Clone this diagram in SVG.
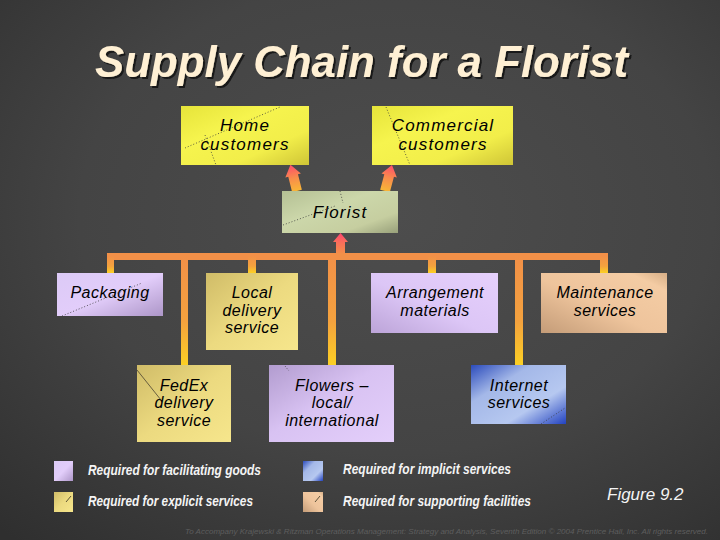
<svg xmlns="http://www.w3.org/2000/svg" width="720" height="540" viewBox="0 0 720 540">
<defs>
  <radialGradient id="bg" cx="0.55" cy="0.4" r="0.8">
    <stop offset="0" stop-color="#4d4d4d"/>
    <stop offset="0.55" stop-color="#444444"/>
    <stop offset="1" stop-color="#2f2f2f"/>
  </radialGradient>
  <filter id="shadow" x="-5%" y="-20%" width="110%" height="140%">
    <feDropShadow dx="2" dy="2" stdDeviation="0.6" flood-color="#151515" flood-opacity="0.95"/>
  </filter>
  <linearGradient id="gYellow" x1="0" y1="0" x2="1" y2="1">
    <stop offset="0" stop-color="#e6e43a"/>
    <stop offset="0.35" stop-color="#f6f44e"/>
    <stop offset="0.7" stop-color="#f2ee4a"/>
    <stop offset="1" stop-color="#cfc536"/>
  </linearGradient>
  <linearGradient id="gFlorist" x1="0" y1="0" x2="1" y2="1">
    <stop offset="0" stop-color="#b4c094"/>
    <stop offset="0.4" stop-color="#ccd7aa"/>
    <stop offset="0.75" stop-color="#c6cea0"/>
    <stop offset="1" stop-color="#98a07a"/>
  </linearGradient>
  <linearGradient id="gPurpleA" x1="0" y1="0" x2="1" y2="1">
    <stop offset="0" stop-color="#dccaf6"/>
    <stop offset="0.5" stop-color="#e2cdfa"/>
    <stop offset="1" stop-color="#ad96c8"/>
  </linearGradient>
  <linearGradient id="gPurpleB" x1="0" y1="0" x2="1" y2="1">
    <stop offset="0" stop-color="#b29ccf"/>
    <stop offset="0.45" stop-color="#d8c2f2"/>
    <stop offset="1" stop-color="#e4cffb"/>
  </linearGradient>
  <linearGradient id="gPurpleC" x1="1" y1="0" x2="0" y2="1">
    <stop offset="0" stop-color="#e6d0fc"/>
    <stop offset="0.55" stop-color="#dcc6f6"/>
    <stop offset="1" stop-color="#bca4d8"/>
  </linearGradient>
  <linearGradient id="gTan" x1="0" y1="0" x2="1" y2="1">
    <stop offset="0" stop-color="#d0bc68"/>
    <stop offset="0.5" stop-color="#ecda80"/>
    <stop offset="1" stop-color="#f6e68c"/>
  </linearGradient>
  <linearGradient id="gPeach" x1="0" y1="1" x2="1" y2="0">
    <stop offset="0" stop-color="#c49c78"/>
    <stop offset="0.45" stop-color="#eec49c"/>
    <stop offset="0.85" stop-color="#f4cca4"/>
    <stop offset="1" stop-color="#d6ae86"/>
  </linearGradient>
  <linearGradient id="gBlue" x1="0" y1="0" x2="1" y2="1">
    <stop offset="0" stop-color="#2c4cbc"/>
    <stop offset="0.32" stop-color="#a4b8e8"/>
    <stop offset="0.68" stop-color="#b6c8f0"/>
    <stop offset="1" stop-color="#2242c0"/>
  </linearGradient>
  <linearGradient id="gDrop" x1="0" y1="0" x2="0" y2="1">
    <stop offset="0" stop-color="#f29048"/>
    <stop offset="0.6" stop-color="#f4a23e"/>
    <stop offset="1" stop-color="#fcd024"/>
  </linearGradient>
  <linearGradient id="gArrow" x1="0" y1="1" x2="0" y2="0">
    <stop offset="0" stop-color="#f8b636"/>
    <stop offset="0.5" stop-color="#f88c4c"/>
    <stop offset="1" stop-color="#ff4a6c"/>
  </linearGradient>
  <linearGradient id="gArrowUp" x1="0" y1="1" x2="0" y2="0">
    <stop offset="0" stop-color="#f39048"/>
    <stop offset="0.6" stop-color="#fb6a5c"/>
    <stop offset="1" stop-color="#ff4470"/>
  </linearGradient>
  <style>
    .node text { font-family: "Liberation Sans", Arial, sans-serif; font-style: italic; font-size: 16px; fill: #000; text-anchor: middle; letter-spacing: 0.5px; }
    .node text.big { font-size: 17px; letter-spacing: 1.2px; }
    .dot { stroke: #3a3a3a; stroke-width: 0.8; stroke-dasharray: 1 2; fill: none; }
    .leg { font-family: "Liberation Sans", Arial, sans-serif; font-style: italic; font-weight: bold; font-size: 14px; fill: #f4f4f4; }
  </style>
</defs>

<rect x="0" y="0" width="720" height="540" fill="url(#bg)"/>

<!-- Title -->
<text id="title" x="95" y="77" font-family="'Liberation Sans', Arial, sans-serif" font-weight="bold" font-style="italic" font-size="45" fill="#fff0d4" filter="url(#shadow)" textLength="533" lengthAdjust="spacingAndGlyphs">Supply Chain for a Florist</text>

<!-- Connectors -->
<g id="connectors">
  <rect x="107" y="253" width="501" height="7" fill="#f29048"/>
  <rect x="107" y="256" width="7" height="17" fill="url(#gDrop)"/>
  <rect x="248" y="256" width="8" height="17" fill="url(#gDrop)"/>
  <rect x="428" y="256" width="8" height="17" fill="url(#gDrop)"/>
  <rect x="600" y="256" width="8" height="17" fill="url(#gDrop)"/>
  <rect x="181" y="256" width="7" height="109" fill="url(#gDrop)"/>
  <rect x="328" y="256" width="8" height="109" fill="url(#gDrop)"/>
  <rect x="515" y="256" width="8" height="109" fill="url(#gDrop)"/>
  <polygon points="336,254 336,242 333,242 340.5,233 348,242 345,242 345,254" fill="url(#gArrowUp)"/>
  <g transform="translate(297,191) rotate(-14)">
    <polygon points="-5,0 -5,-16 -8,-16 0,-27 8,-16 5,-16 5,0" fill="url(#gArrow)"/>
  </g>
  <g transform="translate(385,191) rotate(15)">
    <polygon points="-5,0 -5,-16 -8,-16 0,-27 8,-16 5,-16 5,0" fill="url(#gArrow)"/>
  </g>
</g>

<!-- Nodes -->
<g id="home" class="node">
  <rect x="181" y="106" width="128" height="59" fill="url(#gYellow)"/>
  <path class="dot" d="M185,148 L280,107 M205,135 L216,165"/>
  <text class="big" x="245" y="131">Home</text>
  <text class="big" x="245" y="150">customers</text>
</g>
<g id="commercial" class="node">
  <rect x="372" y="106" width="141" height="59" fill="url(#gYellow)"/>
  <path class="dot" d="M386,107 L410,165"/>
  <text class="big" x="443" y="131">Commercial</text>
  <text class="big" x="443" y="150">customers</text>
</g>
<g id="florist" class="node">
  <rect x="282" y="191" width="116" height="42" fill="url(#gFlorist)"/>
  <path class="dot" d="M283,225 L335,206 M340,191 L343,203"/>
  <text class="big" x="340" y="218">Florist</text>
</g>
<g id="packaging" class="node">
  <rect x="57" y="273" width="106" height="43" fill="url(#gPurpleA)"/>
  <path class="dot" d="M62,316 L142,283"/>
  <text x="110" y="298">Packaging</text>
</g>
<g id="local" class="node">
  <rect x="206" y="273" width="92" height="77" fill="url(#gTan)"/>
  <text x="252" y="298">Local</text>
  <text x="252" y="316">delivery</text>
  <text x="252" y="333">service</text>
</g>
<g id="arrangement" class="node">
  <rect x="371" y="273" width="127" height="60" fill="url(#gPurpleC)"/>
  <text x="435" y="298">Arrangement</text>
  <text x="435" y="316">materials</text>
</g>
<g id="maintenance" class="node">
  <rect x="541" y="273" width="126" height="60" fill="url(#gPeach)"/>
  <text x="605" y="298">Maintenance</text>
  <text x="605" y="316">services</text>
</g>
<g id="fedex" class="node">
  <rect x="137" y="365" width="94" height="77" fill="url(#gTan)"/>
  <path d="M137,370 L161,400" stroke="#4a4230" stroke-width="0.8" fill="none"/>
  <text x="184" y="391">FedEx</text>
  <text x="184" y="408">delivery</text>
  <text x="184" y="426">service</text>
</g>
<g id="flowers" class="node">
  <rect x="269" y="365" width="125" height="77" fill="url(#gPurpleB)"/>
  <path class="dot" d="M285,366 L289,371"/>
  <text x="332" y="391">Flowers –</text>
  <text x="332" y="408">local/</text>
  <text x="332" y="426">international</text>
</g>
<g id="internet" class="node">
  <rect x="471" y="365" width="95" height="59" fill="url(#gBlue)"/>
  <path class="dot" d="M541,424 L565,408"/>
  <text x="519" y="391">Internet</text>
  <text x="519" y="408">services</text>
</g>

<!-- Legend -->
<g id="legend">
  <rect x="54" y="461" width="19" height="20" fill="url(#gPurpleA)"/>
  <rect x="54" y="492" width="19" height="20" fill="url(#gTan)"/>
  <path d="M66,502 L71,496" stroke="#3a3420" stroke-width="0.8"/>
  <rect x="303" y="461" width="20" height="20" fill="url(#gBlue)"/>
  <rect x="303" y="492" width="20" height="20" fill="url(#gPeach)"/>
  <path d="M315,502 L320,496" stroke="#3a3420" stroke-width="0.8"/>
  <text class="leg" x="88" y="475" textLength="173" lengthAdjust="spacingAndGlyphs">Required for facilitating goods</text>
  <text class="leg" x="88" y="506" textLength="165" lengthAdjust="spacingAndGlyphs">Required for explicit services</text>
  <text class="leg" x="343" y="474" textLength="168" lengthAdjust="spacingAndGlyphs">Required for implicit services</text>
  <text class="leg" x="343" y="506" textLength="188" lengthAdjust="spacingAndGlyphs">Required for supporting facilities</text>
  <text x="607" y="500" font-family="'Liberation Sans', Arial, sans-serif" font-style="italic" font-size="17" fill="#f4f4f4">Figure 9.2</text>
</g>

<text x="185" y="534" font-family="'Liberation Sans', Arial, sans-serif" font-style="italic" font-size="8" fill="#5e5e5e" textLength="523" lengthAdjust="spacingAndGlyphs">To Accompany Krajewski &amp; Ritzman Operations Management: Strategy and Analysis, Seventh Edition © 2004 Prentice Hall, Inc. All rights reserved.</text>
</svg>
